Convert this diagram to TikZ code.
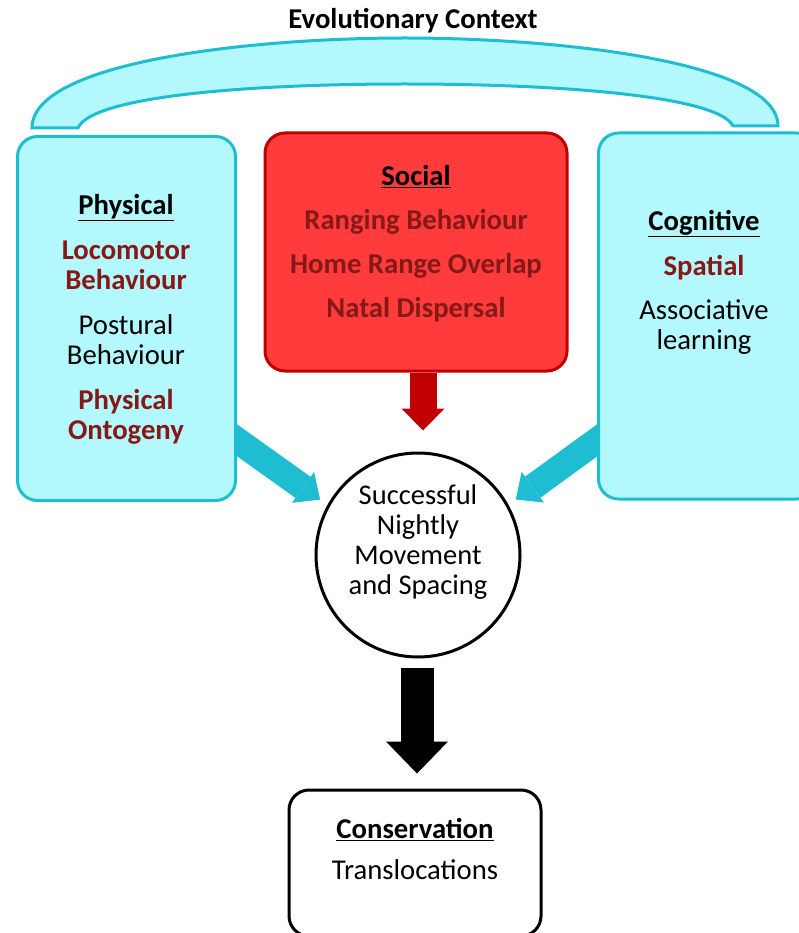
\documentclass[tikz,border=0pt]{standalone}
\usepackage{fontspec}
\setmainfont{Carlito}
\usetikzlibrary{arrows.meta,backgrounds}

\definecolor{evoline}{HTML}{1FBDD2}
\definecolor{evofill}{HTML}{B2F8FC}
\definecolor{socfill}{HTML}{FF3B3B}
\definecolor{socline}{HTML}{C00000}
\definecolor{itemred}{HTML}{861818}

\newcommand{\boxhead}[1]{\underline{\textbf{#1}}}
\newcommand{\keyitem}[1]{\textcolor{itemred}{\textbf{#1}}}

\tikzset{
  panel/.style={draw=evoline, fill=evofill, line width=3pt, rounded corners=20pt},
  socpanel/.style={draw=socline, fill=socfill, line width=3pt, rounded corners=20pt},
  endpanel/.style={draw=black, fill=white, line width=3pt, rounded corners=20pt},
  listing/.style={align=center, anchor=north, inner sep=0pt,
    font=\fontsize{28.7}{30}\selectfont},
  fatarrow/.style args={#1/#2/#3/#4}{draw=#1, line width=#2,
    -{Triangle[width=#3, length=#4, line width=0pt, fill=#1]}}
}

\begin{document}
\begin{tikzpicture}[x=1pt,y=-1pt]
  \useasboundingbox (0,0) rectangle (798,933);

  \node[listing, font=\fontsize{28.7}{30}\selectfont\bfseries] (title) at (413,8)
    {Evolutionary Context};

  \draw[draw=evoline, fill=evofill, line width=3pt]
    (32,128) .. controls (32,62) and (250,38) .. (405,38)
    .. controls (560,38) and (778,62) .. (778,126)
    -- (733,126) .. controls (718,96) and (560,84) .. (405,84)
    .. controls (250,84) and (92,96) .. (78,128) -- cycle;

  \node[panel, minimum width=218pt, minimum height=364pt] (phys) at (126.5,318.5) {};
  \node[socpanel, minimum width=302pt, minimum height=238pt] (social) at (416,252) {};
  \node[panel, minimum width=218pt, minimum height=366pt] (cog) at (707.5,316) {};
  \node[circle, draw=black, fill=white, line width=3pt, minimum size=204pt] (goal) at (418,555) {};
  \node[endpanel, minimum width=252pt, minimum height=146pt] (cons) at (415,863) {};

  \node[listing] (physlist) at (126,194) {\boxhead{Physical}\\[15pt]
    \keyitem{Locomotor}\\ \keyitem{Behaviour}\\[15pt]
    Postural\\ Behaviour\\[15pt]
    \keyitem{Physical}\\ \keyitem{Ontogeny}};
  \node[listing] (soclist) at (416,165) {\boxhead{Social}\\[14pt]
    \keyitem{Ranging Behaviour}\\[14pt]
    \keyitem{Home Range Overlap}\\[14pt]
    \keyitem{Natal Dispersal}};
  \node[listing] (coglist) at (704,210) {\boxhead{Cognitive}\\[15pt]
    \keyitem{Spatial}\\[14pt]
    Associative\\ learning};
  \node[listing, font=\fontsize{28.5}{29.7}\selectfont] (goaltext) at (418,485)
    {Successful\\ Nightly\\ Movement\\ and Spacing};
  \node[listing] (conslist) at (415,818) {\boxhead{Conservation}\\[11pt]
    Translocations};

  \begin{scope}[on background layer]
    \draw[fatarrow=evoline/26pt/38pt/21pt, shorten >=9pt]
      ([xshift=-15pt,yshift=-111pt]phys.east) -- (goal.151);
    \draw[fatarrow=evoline/26pt/38pt/21pt, shorten >=9pt]
      ([xshift=15pt,yshift=-113.5pt]cog.west) -- (goal.29);
  \end{scope}
  \draw[fatarrow=socline/27pt/43pt/22pt, shorten >=21pt]
    ([xshift=7pt]social.south) -- ([xshift=5pt]goal.north);
  \draw[fatarrow=black/33pt/62pt/32pt, shorten <=9pt, shorten >=15pt]
    ([xshift=-1pt]goal.south) -- ([xshift=2pt]cons.north);
\end{tikzpicture}
\end{document}
